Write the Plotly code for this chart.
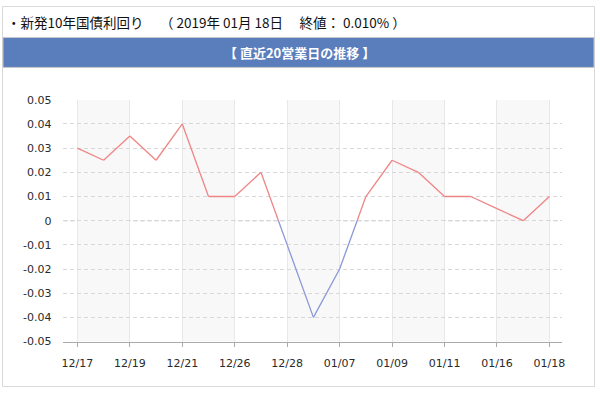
import plotly.graph_objects as go

# ---- data ----
dates = ["12/17", "12/18", "12/19", "12/20", "12/21", "12/25", "12/26", "12/27", "12/28",
         "01/04", "01/07", "01/08", "01/09", "01/10", "01/11", "01/15", "01/16", "01/17", "01/18"]
values = [0.030, 0.025, 0.035, 0.025, 0.040, 0.010, 0.010, 0.020, -0.010,
          -0.040, -0.020, 0.010, 0.025, 0.020, 0.010, 0.010, 0.005, 0.000, 0.010]
y_ticks = [-0.05, -0.04, -0.03, -0.02, -0.01, 0.0, 0.01, 0.02, 0.03, 0.04, 0.05]
y_tick_text = ["-0.05", "-0.04", "-0.03", "-0.02", "-0.01", "0", "0.01", "0.02", "0.03", "0.04", "0.05"]
title_text = "・新発10年国債利回り　 （ 2019年 01月 18日　 終値： 0.010% ）"
band_text = "【 直近20営業日の推移 】"

W, H = 600, 395
RED = "#ef8585"
BLUE = "#8a98d6"

xs = list(range(len(dates)))

# split the polyline at zero crossings into positive / negative pieces
pos_x, pos_y, neg_x, neg_y = [], [], [], []
for i in range(len(xs) - 1):
    x0, y0, x1, y1 = xs[i], values[i], xs[i + 1], values[i + 1]
    pieces = []
    if (y0 >= 0) != (y1 >= 0) and y0 != y1:
        t = y0 / (y0 - y1)
        xc = x0 + t * (x1 - x0)
        pieces.append((x0, y0, xc, 0.0, y0 >= 0))
        pieces.append((xc, 0.0, x1, y1, y1 >= 0))
    else:
        pieces.append((x0, y0, x1, y1, (y0 >= 0 and y1 >= 0)))
    for a, b, c, d, positive in pieces:
        if positive:
            pos_x += [a, c, None]; pos_y += [b, d, None]
        else:
            neg_x += [a, c, None]; neg_y += [b, d, None]

fig = go.Figure()
fig.add_trace(go.Scatter(x=pos_x, y=pos_y, mode="lines", line=dict(color=RED, width=1.3),
                         hoverinfo="skip", showlegend=False))
fig.add_trace(go.Scatter(x=neg_x, y=neg_y, mode="lines", line=dict(color=BLUE, width=1.3),
                         hoverinfo="skip", showlegend=False))


def px(x):
    return x / W


def py(y):
    return 1 - y / H


shapes = []
# outer frame
shapes.append(dict(type="rect", xref="paper", yref="paper", x0=px(0.5), x1=px(597.5),
                   y0=py(393.5), y1=py(0.5), line=dict(color="#d9d9d9", width=1),
                   fillcolor="rgba(0,0,0,0)", layer="below"))
# header band
shapes.append(dict(type="rect", xref="paper", yref="paper", x0=px(1), x1=px(597),
                   y0=py(63.5), y1=py(32.5), line=dict(color="#c9c9c9", width=1),
                   fillcolor="#5a7dbc", layer="below"))
# alternating split areas
tick_idx = xs[::2]
for k in range(0, len(tick_idx) - 1, 2):
    shapes.append(dict(type="rect", xref="x", yref="y", x0=tick_idx[k], x1=tick_idx[k + 1],
                       y0=-0.05, y1=0.05, line=dict(width=0), fillcolor="#f8f8f8", layer="below"))
# dashed zero line
shapes.append(dict(type="line", xref="paper", yref="y", x0=px(62), x1=px(562), y0=0, y1=0,
                   line=dict(color="#a0a0a0", width=1, dash="4px,3px"), layer="below"))

annotations = [
    dict(text=title_text, xref="paper", yref="paper", x=px(3), y=py(17), xanchor="left",
         yanchor="middle", showarrow=False,
         font=dict(family="Noto Sans CJK JP", size=13.5, color="#111111")),
    dict(text="<b>" + band_text + "</b>", xref="paper", yref="paper", x=px(300), y=py(48),
         xanchor="center", yanchor="middle", showarrow=False,
         font=dict(family="Noto Sans CJK JP", size=13, color="#ffffff")),
]

tick_font = dict(family="DejaVu Sans, Verdana, sans-serif", size=11, color="#2a2a2a")

fig.update_layout(
    width=W, height=H,
    margin=dict(l=0, r=0, t=0, b=0),
    paper_bgcolor="white", plot_bgcolor="white",
    shapes=shapes, annotations=annotations,
    showlegend=False,
    xaxis=dict(domain=[px(62), px(565)], range=[-0.53, 18.49],
               tickvals=tick_idx, ticktext=dates[::2],
               showgrid=True, gridcolor="#e8e8e8", gridwidth=1,
               zeroline=False, showline=True, linecolor="#aaaaaa", linewidth=1,
               ticks="outside", ticklen=4, tickcolor="#aaaaaa",
               ticklabelstandoff=7,
               tickfont=tick_font,
               fixedrange=True),
    yaxis=dict(domain=[py(347), py(97)], range=[-0.05, 0.05],
               tickvals=y_ticks, ticktext=y_tick_text,
               showgrid=True, gridcolor="#d8d8d8", griddash="4px,3px", gridwidth=1,
               zeroline=False, showline=False, ticks="",
               ticklabelstandoff=11,
               tickfont=tick_font,
               fixedrange=True),
)

fig.write_html("out.html")
